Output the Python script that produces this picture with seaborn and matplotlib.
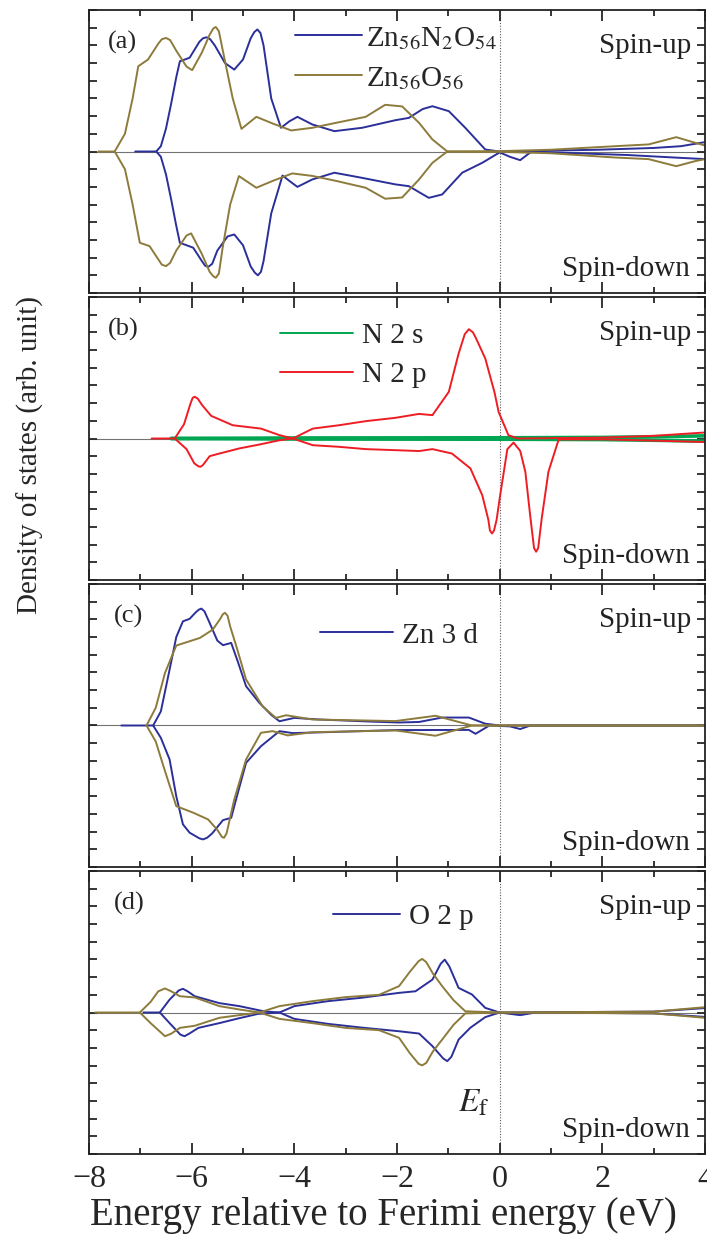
import matplotlib
matplotlib.use("Agg")
import matplotlib.pyplot as plt
import seaborn as sns
from matplotlib.ticker import MultipleLocator
from matplotlib.lines import Line2D

# ---- panel (a): total DOS ----
a_dop_up_x = [-7.1, -6.69, -6.6, -6.5, -6.4, -6.3, -6.23, -6.04, -5.85, -5.78, -5.71, -5.64, -5.55, -5.35, -5.17, -5.0,
              -4.85, -4.78, -4.72, -4.66, -4.6, -4.45, -4.26, -4.1, -3.94, -3.65, -3.22, -2.68, -2.03, -1.77, -1.5,
              -1.31, -0.99, -0.67, -0.28, 0.0, 0.5, 1.0, 1.92, 3.0, 3.53, 4.0]
a_dop_up_y = [0, 0, 0.3, 1.3, 2.7, 4.2, 5.1, 5.3, 6.2, 6.4, 6.46, 6.35, 6.0, 5.0, 4.63, 5.2,
              6.4, 6.75, 6.9, 6.7, 6.0, 3.0, 1.34, 1.7, 1.96, 1.53, 1.15, 1.34, 1.77, 1.9, 2.4,
              2.56, 2.28, 1.34, 0.11, 0.0, 0.02, 0.05, 0.1, 0.2, 0.3, 0.53]
a_dop_dn_x = [-6.69, -6.6, -6.5, -6.4, -6.3, -6.23, -5.97, -5.8, -5.74, -5.68, -5.6, -5.5, -5.3, -5.17, -5.0, -4.85,
              -4.77, -4.71, -4.65, -4.6, -4.45, -4.23, -4.08, -3.94, -3.65, -3.22, -2.68, -2.03, -1.77, -1.38, -1.12,
              -0.73, -0.34, 0.0, 0.2, 0.4, 0.62, 1.5, 2.5, 3.53, 4.0]
a_dop_dn_y = [0, -0.3, -1.3, -2.7, -4.2, -5.16, -5.44, -6.2, -6.45, -6.53, -6.35, -5.6, -4.8, -4.69, -5.3, -6.5,
              -6.85, -7.0, -6.8, -6.2, -3.5, -1.36, -1.7, -2.0, -1.58, -1.2, -1.49, -1.86, -1.96, -2.62, -2.43,
              -1.2, -0.64, -0.05, -0.3, -0.49, 0, -0.1, -0.2, -0.36, -0.43]
a_pure_up_x = [-7.82, -7.5, -7.3, -7.15, -7.04, -6.85, -6.65, -6.58, -6.5, -6.42, -6.3, -6.1, -5.99, -5.8, -5.65, -5.58,
               -5.53, -5.47, -5.4, -5.2, -5.03, -4.74, -4.42, -4.06, -3.65, -3.19, -2.61, -2.23, -1.9, -1.57, -1.31,
               -1.02, 0.0, 1.0, 2.25, 2.9, 3.44, 3.8, 4.0]
a_pure_up_y = [0, 0, 1.0, 3.0, 4.82, 5.2, 6.1, 6.35, 6.42, 6.3, 5.7, 4.8, 4.6, 5.6, 6.6, 6.95,
               7.04, 6.8, 5.8, 3.0, 1.28, 1.96, 1.58, 1.19, 1.34, 1.62, 1.96, 2.64, 2.55, 1.62, 0.68,
               0, 0.02, 0.1, 0.3, 0.4, 0.81, 0.5, 0.34]
a_pure_dn_x = [-7.5, -7.3, -7.15, -7.01, -6.82, -6.65, -6.58, -6.5, -6.42, -6.3, -6.1, -6.01, -5.8, -5.65, -5.58, -5.53,
               -5.47, -5.4, -5.25, -5.08, -4.74, -4.42, -4.04, -3.65, -3.19, -2.61, -2.23, -1.9, -1.57, -1.31, -1.02,
               0.0, 1.0, 2.25, 2.9, 3.44, 3.8, 4.0]
a_pure_dn_y = [0, -1.0, -3.0, -5.16, -5.35, -6.1, -6.4, -6.48, -6.3, -5.6, -4.75, -4.63, -5.8, -6.8, -7.05, -7.14,
               -6.9, -5.5, -3.0, -1.39, -2.05, -1.66, -1.24, -1.38, -1.66, -2.05, -2.67, -2.6, -1.58, -0.64, 0,
               -0.02, -0.1, -0.34, -0.43, -0.83, -0.55, -0.43]

# ---- panel (b): N 2s / N 2p ----
b_n2p_up_x = [-6.78, -6.33, -6.15, -6.02, -5.98, -5.94, -5.88, -5.8, -5.62, -5.2, -4.65, -4.29, -4.03, -3.64, -3.13,
              -2.61, -2.03, -1.57, -1.31, -0.99, -0.8, -0.68, -0.6, -0.52, -0.45, -0.28, -0.1, -0.02, 0.17, 0.35,
              2.0, 3.0, 4.0]
b_n2p_up_y = [0, 0, 0.8, 2.0, 2.3, 2.36, 2.25, 1.9, 1.28, 0.75, 0.56, 0.19, 0, 0.56, 0.75,
              0.98, 1.17, 1.39, 1.32, 2.64, 4.8, 5.9, 6.18, 6.0, 5.6, 4.52, 2.6, 1.5, 0.19, 0,
              0.05, 0.15, 0.34]
b_n2p_dn_x = [-6.33, -6.1, -5.95, -5.87, -5.83, -5.78, -5.65, -5.46, -5.07, -4.68, -4.29, -4.03, -3.64, -3.13, -2.61,
              -2.03, -1.57, -1.31, -0.93, -0.57, -0.34, -0.22, -0.19, -0.15, -0.11, -0.06, 0.01, 0.15, 0.27, 0.4,
              0.5, 0.6, 0.67, 0.71, 0.75, 0.82, 0.95, 1.15, 2.0, 3.0, 4.0]
b_n2p_dn_y = [0, -0.6, -1.4, -1.57, -1.6, -1.5, -1.0, -0.85, -0.56, -0.34, -0.1, 0, -0.38, -0.47, -0.6,
              -0.66, -0.71, -0.6, -0.85, -1.69, -3.2, -4.6, -5.2, -5.37, -5.2, -4.6, -3.2, -0.6, -0.23, -0.7,
              -1.88, -4.5, -6.2, -6.4, -6.2, -4.5, -1.88, -0.05, -0.05, -0.12, -0.2]
b_n2s_x = [-6.4, -4.0, 0.0, 2.0, 3.0, 4.0]
b_n2s_up_y = [0, 0.03, 0.04, 0.06, 0.1, 0.15]
b_n2s_dn_y = [0, -0.03, -0.04, -0.06, -0.1, -0.15]

# ---- panel (c): Zn 3d ----
c_dop_up_x = [-7.37, -6.75, -6.6, -6.43, -6.3, -6.17, -6.04, -5.92, -5.86, -5.81, -5.75, -5.65, -5.5, -5.39, -5.23,
              -5.1, -4.94, -4.68, -4.45, -4.29, -4.0, -3.52, -2.5, -1.96, -1.57, -1.12, -0.6, -0.28, 0.0, 4.0]
c_dop_up_y = [0, 0, 0.8, 3.16, 5.0, 5.89, 6.03, 6.4, 6.55, 6.61, 6.45, 5.8, 4.8, 4.54, 4.67,
              3.6, 2.22, 1.28, 0.6, 0.24, 0.43, 0.34, 0.22, 0.17, 0.2, 0.45, 0.45, 0.1, 0, 0]
c_dop_dn_x = [-6.75, -6.6, -6.43, -6.3, -6.17, -6.04, -5.85, -5.78, -5.7, -5.6, -5.39, -5.23, -5.1, -4.94, -4.65,
              -4.29, -4.03, -3.65, -2.03, -0.6, -0.47, -0.2, 0.2, 0.4, 0.6, 4.0]
c_dop_dn_y = [0, -0.7, -1.92, -4.0, -5.59, -6.06, -6.38, -6.44, -6.35, -6.1, -5.35, -5.22, -3.8, -2.11, -1.17,
              -0.32, -0.43, -0.4, -0.26, -0.25, -0.47, 0, -0.05, -0.2, 0, 0]
c_pure_up_x = [-6.88, -6.7, -6.52, -6.3, -5.84, -5.59, -5.45, -5.39, -5.35, -5.3, -5.25, -5.13, -4.94, -4.62, -4.36,
               -4.16, -3.65, -2.03, -1.25, -0.54, 4.0]
c_pure_up_y = [0, 1.0, 2.97, 4.52, 4.95, 5.42, 6.0, 6.3, 6.37, 6.2, 5.6, 4.48, 2.6, 1.09, 0.43,
               0.58, 0.34, 0.25, 0.55, 0, 0]
c_pure_dn_x = [-6.88, -6.7, -6.55, -6.3, -5.97, -5.68, -5.5, -5.41, -5.37, -5.32, -5.17, -4.94, -4.65, -4.42, -4.13,
               -3.65, -2.03, -1.25, -0.54, 4.0]
c_pure_dn_y = [0, -0.9, -2.3, -4.56, -4.93, -5.31, -5.9, -6.3, -6.35, -6.1, -4.18, -1.92, -0.41, -0.32, -0.56,
               -0.38, -0.28, -0.58, 0, 0]

# ---- panel (d): O 2p ----
d_dop_up_x = [-6.94, -6.62, -6.43, -6.25, -6.17, -6.08, -5.94, -5.46, -5.07, -4.58, -4.29, -4.0, -3.35, -2.7, -1.96,
              -1.64, -1.31, -1.15, -1.07, -0.98, -0.8, -0.54, -0.28, 0.0, 3.0, 4.0]
d_dop_up_y = [0, 0, 0.73, 1.25, 1.34, 1.2, 0.92, 0.53, 0.36, 0.06, 0, 0.36, 0.64, 0.83, 1.11,
              1.2, 1.86, 2.75, 2.99, 2.6, 1.39, 1.02, 0.26, 0, 0.05, 0.25]
d_dop_dn_x = [-6.62, -6.43, -6.22, -6.14, -6.05, -5.87, -5.46, -5.07, -4.71, -4.29, -4.0, -3.35, -2.7, -1.96, -1.57,
              -1.31, -1.1, -1.02, -0.94, -0.8, -0.57, -0.28, 0.0, 0.4, 0.7, 3.0, 4.0]
d_dop_dn_y = [0, -0.6, -1.25, -1.34, -1.2, -0.87, -0.6, -0.32, -0.08, 0, -0.36, -0.64, -0.85, -1.06, -1.19,
              -1.9, -2.6, -2.75, -2.5, -1.53, -0.86, -0.26, 0, -0.15, 0, -0.05, -0.25]
d_pure_up_x = [-7.88, -7.01, -6.8, -6.65, -6.52, -6.4, -6.23, -5.94, -5.46, -5.07, -4.68, -4.29, -3.65, -3.0, -2.35,
               -1.96, -1.75, -1.58, -1.51, -1.43, -1.3, -1.12, -0.9, -0.67, 0.0, 3.0, 4.0]
d_pure_up_y = [0, 0, 0.6, 1.2, 1.36, 1.2, 0.92, 0.85, 0.36, 0.17, 0, 0.36, 0.64, 0.87, 1.0,
               1.49, 2.3, 2.9, 3.03, 2.85, 2.2, 1.49, 0.7, 0.07, 0, 0.05, 0.3]
d_pure_dn_x = [-7.01, -6.8, -6.52, -6.4, -6.23, -5.94, -5.46, -4.94, -4.68, -4.29, -3.65, -3.0, -2.35, -1.96, -1.75,
               -1.58, -1.51, -1.43, -1.3, -1.12, -0.9, -0.67, 0.0, 3.0, 4.0]
d_pure_dn_y = [0, -0.6, -1.34, -1.2, -0.87, -0.75, -0.3, -0.1, 0, -0.36, -0.6, -0.87, -1.0, -1.43, -2.3,
               -2.9, -2.99, -2.85, -2.2, -1.53, -0.7, -0.05, 0, -0.05, -0.3]

panel_tags = ["(a)", "(b)", "(c)", "(d)"]
xticks = [-8, -6, -4, -2, 0, 2, 4]

BLUE = "#2b2f99"
BROWN = "#8d7b3c"
RED = "#ee1d24"
GREEN = "#00a651"

sns.set_style("ticks")
plt.rcParams["font.family"] = ["Liberation Serif", "DejaVu Serif"]
plt.rcParams["mathtext.fontset"] = "stix"

fig = plt.figure(figsize=(7.07, 12.43), dpi=100)
W, H = 707, 1243
left_px, right_px = 89, 705
tops = [10, 297, 584, 871]
panel_h = 283

axes = []
for t in tops:
    ax = fig.add_axes([left_px / W, 1 - (t + panel_h) / H, (right_px - left_px) / W, panel_h / H])
    axes.append(ax)


def draw(ax, x, y, color, lw=1.4):
    sns.lineplot(x=x, y=y, ax=ax, color=color, lw=lw, sort=False, estimator=None, legend=False)


ax = axes[0]
draw(ax, a_dop_up_x, a_dop_up_y, BLUE)
draw(ax, a_dop_dn_x, a_dop_dn_y, BLUE)
draw(ax, a_pure_up_x, a_pure_up_y, BROWN)
draw(ax, a_pure_dn_x, a_pure_dn_y, BROWN)
ax.legend(handles=[Line2D([], [], color=BLUE, lw=1.4),
                   Line2D([], [], color=BROWN, lw=1.4)],
          labels=[r"Zn$_{56}$N$_{2}$O$_{54}$", r"Zn$_{56}$O$_{56}$"],
          loc="upper left", bbox_to_anchor=(0.334, 0.948), frameon=False, fontsize=21,
          handlelength=2.3, handletextpad=0.15, labelspacing=0.45, borderpad=0, borderaxespad=0)

ax = axes[1]
draw(ax, b_n2s_x, b_n2s_up_y, GREEN, lw=2.6)
draw(ax, b_n2s_x, b_n2s_dn_y, GREEN, lw=2.6)
draw(ax, b_n2p_up_x, b_n2p_up_y, RED)
draw(ax, b_n2p_dn_x, b_n2p_dn_y, RED)
ax.legend(handles=[Line2D([], [], color=GREEN, lw=1.4),
                   Line2D([], [], color=RED, lw=1.4)],
          labels=["N 2 s", "N 2 p"],
          loc="upper left", bbox_to_anchor=(0.31, 0.91), frameon=False, fontsize=21,
          handlelength=2.5, handletextpad=0.3, labelspacing=0.45, borderpad=0, borderaxespad=0)

ax = axes[2]
draw(ax, c_dop_up_x, c_dop_up_y, BLUE)
draw(ax, c_dop_dn_x, c_dop_dn_y, BLUE)
draw(ax, c_pure_up_x, c_pure_up_y, BROWN)
draw(ax, c_pure_dn_x, c_pure_dn_y, BROWN)
ax.legend(handles=[Line2D([], [], color=BLUE, lw=1.4)], labels=["Zn 3 d"],
          loc="upper left", bbox_to_anchor=(0.375, 0.865), frameon=False, fontsize=21,
          handlelength=2.5, handletextpad=0.3, borderpad=0, borderaxespad=0)

ax = axes[3]
draw(ax, d_dop_up_x, d_dop_up_y, BLUE)
draw(ax, d_dop_dn_x, d_dop_dn_y, BLUE)
draw(ax, d_pure_up_x, d_pure_up_y, BROWN)
draw(ax, d_pure_dn_x, d_pure_dn_y, BROWN)
ax.legend(handles=[Line2D([], [], color=BLUE, lw=1.4)], labels=["O 2 p"],
          loc="upper left", bbox_to_anchor=(0.396, 0.885), frameon=False, fontsize=21,
          handlelength=2.3, handletextpad=0.3, borderpad=0, borderaxespad=0)
ax.text(-0.5, -5.6, r"$E_{\mathrm{f}}$", fontsize=24, ha="center", va="baseline")

for i, ax in enumerate(axes):
    ax.set_xlim(-8, 4)
    ax.set_ylim(-8, 8)
    ax.axhline(0, color="0.45", lw=0.8, zorder=0)
    ax.axvline(0, color="0.35", lw=0.8, ls=(0, (1, 1.5)), zorder=0)
    ax.xaxis.set_major_locator(MultipleLocator(2))
    ax.xaxis.set_minor_locator(MultipleLocator(1))
    ax.yaxis.set_major_locator(MultipleLocator(1))
    ax.tick_params(which="both", direction="in", top=True, right=True, width=1.3, labelleft=False)
    ax.tick_params(which="major", axis="x", length=8)
    ax.tick_params(which="minor", axis="x", length=4.5)
    ax.tick_params(which="major", axis="y", length=6)
    for sp in ax.spines.values():
        sp.set_linewidth(1.3)
        sp.set_color("#222222")
    ax.set_ylabel("")
    ax.set_xlabel("")
    ax.text(-7.63 if i < 2 else -7.52, 6.15, panel_tags[i], fontsize=19, ha="left", va="center")
    ax.text(3.73, 5.55, "Spin-up", fontsize=21, ha="right", va="baseline", color="#222222")
    ax.text(3.7, -7.05, "Spin-down", fontsize=21, ha="right", va="baseline", color="#222222")
    if i < 3:
        ax.tick_params(labelbottom=False)
    else:
        ax.set_xticks(xticks)
        ax.tick_params(axis="x", labelsize=23, pad=8)

fig.text(0.543, 0.0225, "Energy relative to Ferimi energy (eV)", fontsize=28, ha="center", va="center")
fig.text(0.043, 1 - 455 / H, "Density of states (arb. unit)", fontsize=21, ha="center", va="center",
         rotation=90)

fig.savefig("out.png", dpi=100)
